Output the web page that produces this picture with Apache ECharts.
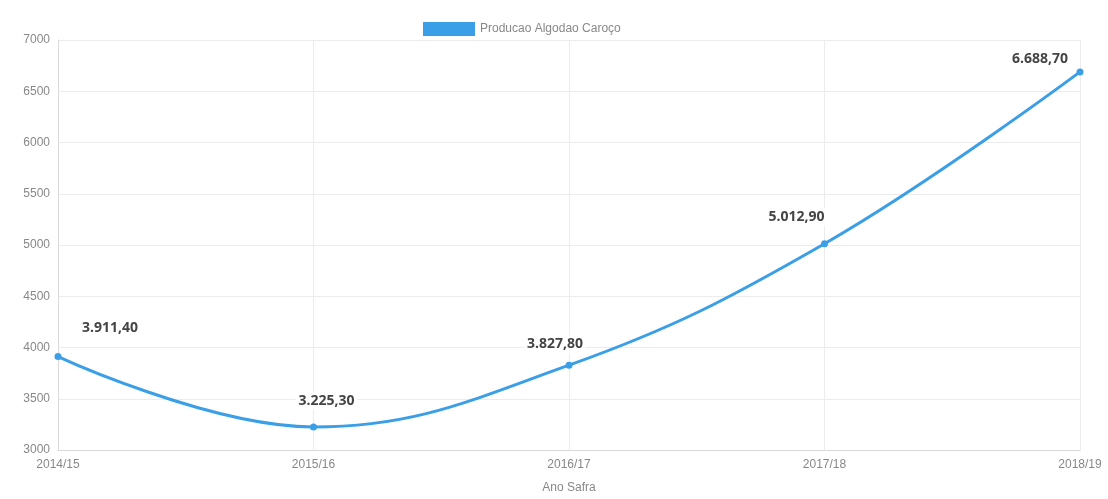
<!DOCTYPE html>
<html>
<head>
<meta charset="utf-8">
<script src="https://cdn.jsdelivr.net/npm/echarts@6/dist/echarts.min.js"></script>
<style>
  html, body { margin: 0; padding: 0; background: #fff; }
  #chart { width: 1108px; height: 499px; }
</style>
</head>
<body>
<div id="chart"></div>
<script>
// Cotton seed production per harvest year
const categories = ['2014/15', '2015/16', '2016/17', '2017/18', '2018/19'];
const producao = [3911.4, 3225.3, 3827.8, 5012.9, 6688.7];
const seriesName = 'Producao Algodao Caroço';
const axisName = 'Ano Safra';

// label placement per point (kept apart from the values)
const labelOffsets = [[52, -29], [13, -26], [-14, -21], [-28, -27], [-40, -13]];

function fmtBR(v) {
  const parts = v.toFixed(2).split('.');
  parts[0] = parts[0].replace(/\B(?=(\d{3})+(?!\d))/g, '.');
  return parts[0] + ',' + parts[1];
}

const chart = echarts.init(document.getElementById('chart'));
const blue = '#3a9fe6';
const textFont = 'Liberation Sans, Arial, sans-serif';

chart.setOption({
  animation: false,
  legend: {
    top: 17,
    left: 418,
    itemWidth: 52,
    itemHeight: 14,
    itemGap: 10,
    icon: 'rect',
    textStyle: { color: '#888', fontSize: 12, fontFamily: textFont },
    data: [{ name: seriesName, icon: 'rect' }]
  },
  grid: { left: 58, right: 28, top: 40, bottom: 47 },
  xAxis: {
    type: 'category',
    data: categories,
    boundaryGap: false,
    name: axisName,
    nameLocation: 'middle',
    nameGap: 32,
    nameTextStyle: { color: '#888', fontSize: 12, fontFamily: textFont },
    axisLine: { lineStyle: { color: '#d9d9d9' } },
    axisTick: { show: false },
    axisLabel: { color: '#888', fontSize: 12, fontFamily: textFont, margin: 9 },
    splitLine: { show: true, lineStyle: { color: '#ececec' } }
  },
  yAxis: {
    type: 'value',
    min: 3000,
    max: 7000,
    interval: 500,
    axisLine: { show: true, lineStyle: { color: '#d9d9d9' } },
    axisTick: { show: false },
    axisLabel: {
      color: '#888', fontSize: 12, fontFamily: textFont, margin: 8,
      formatter: v => String(v)
    },
    splitLine: { lineStyle: { color: '#ececec' } }
  },
  series: [{
    name: seriesName,
    type: 'line',
    smooth: 0.4,
    symbol: 'circle',
    symbolSize: 7,
    itemStyle: { color: blue },
    lineStyle: { color: blue, width: 3 },
    data: producao.map((v, i) => ({
      value: v,
      label: {
        show: true,
        position: 'inside',
        offset: labelOffsets[i],
        formatter: p => fmtBR(p.value),
        color: '#444',
        fontWeight: 'bold',
        fontSize: 14,
        fontFamily: 'Open Sans, Liberation Sans, sans-serif',
        backgroundColor: 'rgba(255,255,255,0.85)',
        padding: [2, 3]
      }
    }))
  }]
});
</script>
</body>
</html>
